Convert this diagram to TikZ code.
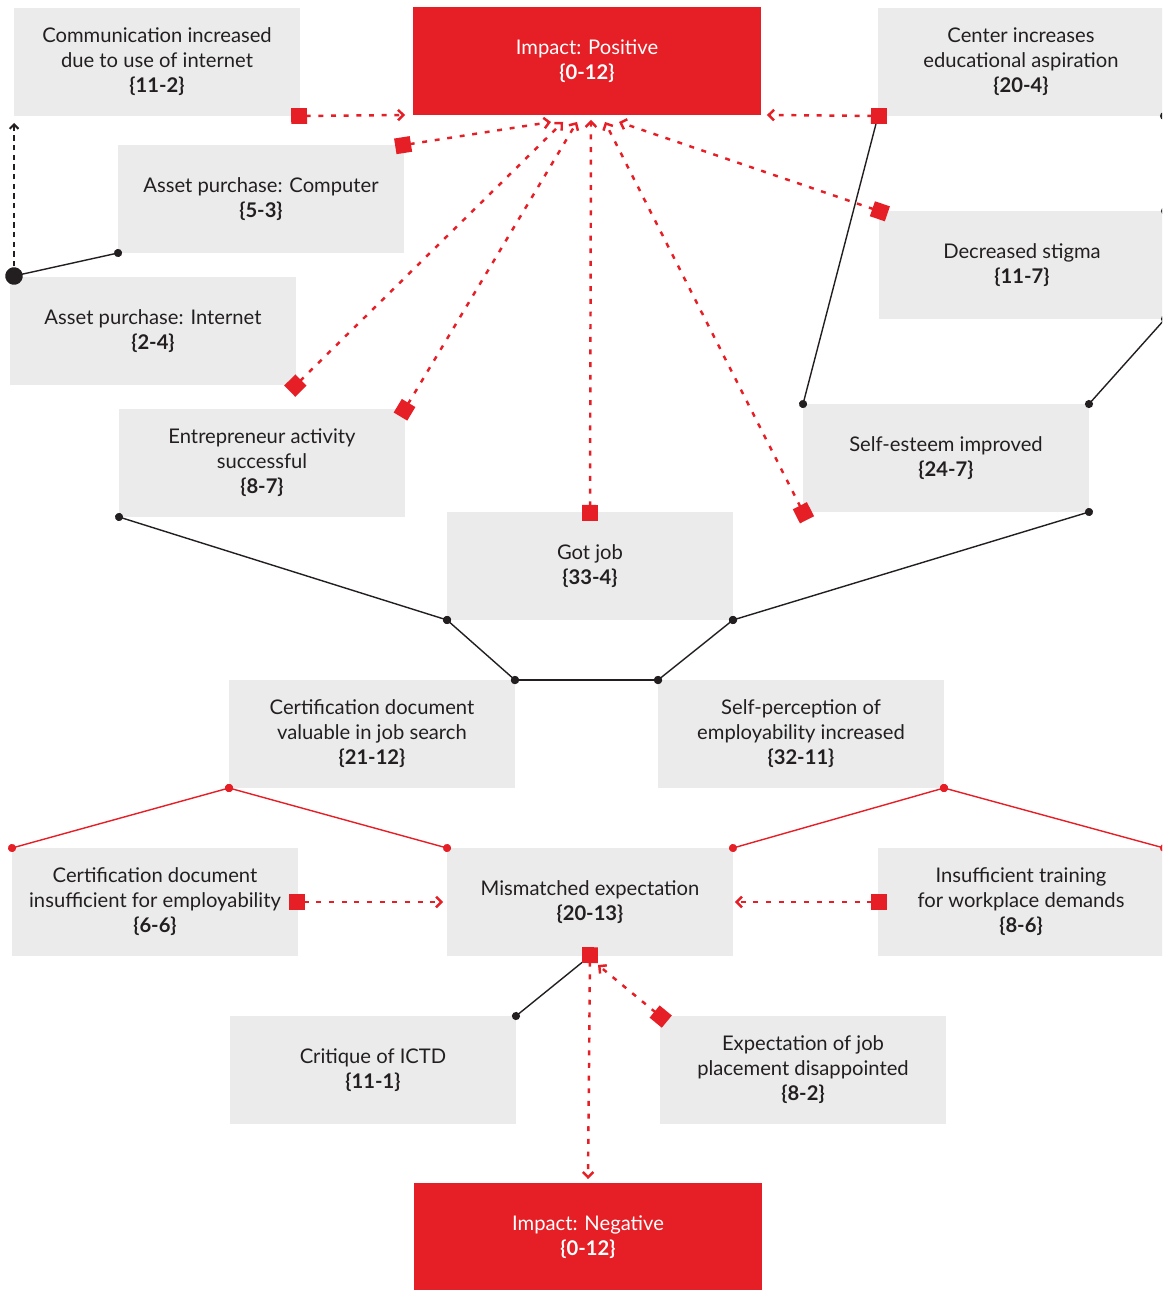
\documentclass[tikz,border=0pt]{standalone}
\usepackage{fontspec}
\setmainfont{Lato}
\usetikzlibrary{arrows.meta}

\definecolor{boxgrey}{HTML}{EBEBEB}
\definecolor{impred}{HTML}{E61E25}
\definecolor{inkdark}{HTML}{231F20}

\begin{document}
\begin{tikzpicture}[x=0.02cm, y=-0.02cm,
    box/.style={fill=boxgrey, text=inkdark, minimum width=5.72cm, minimum height=2.16cm,
        inner sep=0pt, outer sep=0pt, align=center, font=\fontsize{11.5}{14.2}\selectfont},
    impact/.style={box, fill=impred, text=white, minimum width=6.96cm},
    link/.style={inkdark, line width=0.8pt, arrows={Circle[length=4.6pt]-Circle[length=4.6pt]},
        shorten <=-2.3pt, shorten >=-2.3pt},
    redlink/.style={link, impred},
    redarrow/.style={impred, line width=1.4pt, dash pattern=on 2.8pt off 4.4pt,
        arrows={Square[length=9pt,width=9pt]-Straight Barb[length=3pt,width=6pt]}, shorten <=-5pt},
    blackarrow/.style={inkdark, line width=1.2pt, dash pattern=on 3pt off 2.5pt,
        arrows={-Straight Barb[length=2.5pt,width=5pt]}}]

    % 0. Cornice dell'immagine
    \useasboundingbox (0,0) rectangle (1162,1290);
    \clip (0,0) rectangle (1162,1290);

    % 1. Box rossi (Impact)
    \node[impact] (pos) at (587,61) {Impact: Positive\\\textbf{\{0-12\}}};
    \node[impact] (neg) at (588,1237) {Impact: Negative\\\textbf{\{0-12\}}};

    % 2. Box grigi - parte alta
    \node[box] (comm) at (157,62) {Communication increased\\due to use of internet\\\textbf{\{11-2\}}};
    \node[box] (centre) at (1021,62) {Center increases\\educational aspiration\\\textbf{\{20-4\}}};
    \node[box] (comp) at (261,199) {Asset purchase: Computer\\\textbf{\{5-3\}}};
    \node[box] (stigma) at (1022,265) {Decreased stigma\\\textbf{\{11-7\}}};
    \node[box] (inet) at (153,331) {Asset purchase: Internet\\\textbf{\{2-4\}}};
    \node[box] (entre) at (262,463) {Entrepreneur activity\\successful\\\textbf{\{8-7\}}};
    \node[box] (esteem) at (946,458) {Self-esteem improved\\\textbf{\{24-7\}}};
    \node[box] (job) at (590,566) {Got job\\\textbf{\{33-4\}}};

    % 3. Box grigi - parte bassa
    \node[box] (certval) at (372,734) {Certification document\\valuable in job search\\\textbf{\{21-12\}}};
    \node[box] (selfp) at (801,734) {Self-perception of\\employability increased\\\textbf{\{32-11\}}};
    \node[box] (certins) at (155,902) {Certification document\\insufficient for employability\\\textbf{\{6-6\}}};
    \node[box] (mism) at (590,902) {Mismatched expectation\\\textbf{\{20-13\}}};
    \node[box] (train) at (1021,902) {Insufficient training\\for workplace demands\\\textbf{\{8-6\}}};
    \node[box] (crit) at (373,1070) {Critique of ICTD\\\textbf{\{11-1\}}};
    \node[box] (expect) at (803,1070) {Expectation of job\\placement disappointed\\\textbf{\{8-2\}}};

    % 4. Linee nere con pallini
    \coordinate (hub) at ([shift={(4,-1)}]inet.north west);
    \draw[blackarrow] (hub) -- ([shift={(0,7)}]comm.south west);
    \draw[link, arrows={Circle[length=10pt]-Circle[length=4.6pt]}, shorten <=-5pt] (hub) -- (comp.south west);
    \draw[link] (centre.south west) -- (esteem.north west);
    \draw[link] (stigma.south east) -- (esteem.north east);
    \draw[link] (entre.south west) -- (job.south west);
    \draw[link] (esteem.south east) -- (job.south east);
    \draw[link] (job.south west) -- (certval.north east);
    \draw[link] (job.south east) -- (selfp.north west);
    \draw[link] (certval.north east) -- (selfp.north west);
    \draw[link] (crit.north east) -- (mism.south);
    \fill[inkdark] (centre.south east) circle (2.3pt);
    \fill[inkdark] (stigma.north east) circle (2.3pt);

    % 5. Linee rosse con pallini
    \draw[redlink] (certval.south west) -- (certins.north west);
    \draw[redlink] (certval.south west) -- (mism.north west);
    \draw[redlink] (selfp.south east) -- (mism.north east);
    \draw[redlink] (selfp.south east) -- (train.north east);

    % 6. Frecce rosse tratteggiate verso Impact: Positive
    \draw[redarrow] (comm.south east) -- ([shift={(-8,0)}]pos.south west);
    \draw[redarrow] (comp.north east) -- ([shift={(-36,7)}]pos.south);
    \draw[redarrow] (inet.south east) -- ([shift={(-24,7)}]pos.south);
    \draw[redarrow] (entre.north east) -- ([shift={(-10,7)}]pos.south);
    \draw[redarrow] (job.north) -- ([shift={(4,5)}]pos.south);
    \draw[redarrow] (esteem.south west) -- ([shift={(18,7)}]pos.south);
    \draw[redarrow] (stigma.north west) -- ([shift={(32,7)}]pos.south);
    \draw[redarrow] (centre.south west) -- ([shift={(6,0)}]pos.south east);

    % 7. Frecce rosse tratteggiate verso Mismatched e Impact: Negative
    \draw[redarrow] (certins.east) -- ([shift={(-4,0)}]mism.west);
    \draw[redarrow] (train.west) -- ([shift={(2,0)}]mism.east);
    \draw[redarrow] (expect.north west) -- ([shift={(8,9)}]mism.south);
    \draw[redarrow] (mism.south) -- ([shift={(0,-4)}]neg.north);

\end{tikzpicture}
\end{document}
